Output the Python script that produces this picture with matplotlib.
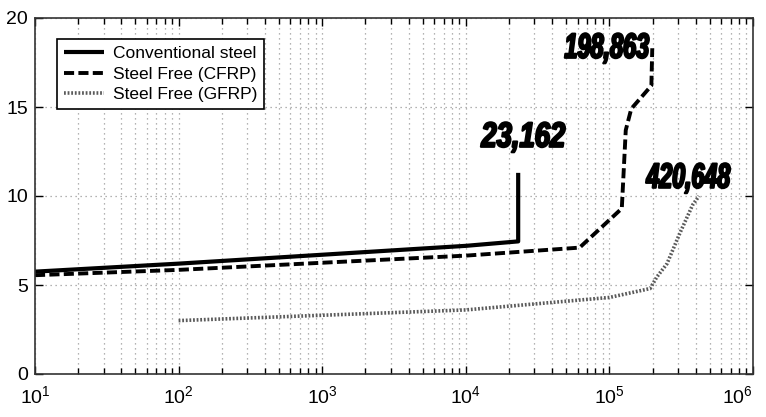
import numpy as np
import matplotlib
matplotlib.use("Agg")
import matplotlib.pyplot as plt
from matplotlib import font_manager
from matplotlib.font_manager import FontProperties
from matplotlib.textpath import TextPath
from matplotlib.patches import PathPatch
from matplotlib.transforms import Affine2D, IdentityTransform
from matplotlib.ticker import LogLocator, FixedLocator, FixedFormatter, NullFormatter

# data
conv_x = [10, 100, 1000, 10000, 23162, 23162]
conv_y = [5.75, 6.2, 6.7, 7.2, 7.45, 11.3]

cfrp_x = [10, 100, 1000, 10000, 62000, 122000, 130000, 142000, 196000, 198863]
cfrp_y = [5.55, 5.85, 6.25, 6.65, 7.1, 9.3, 13.7, 14.9, 16.2, 18.3]

gfrp_x = [100, 1000, 10000, 100000, 192000, 214000, 252000, 309000, 380000, 420648]
gfrp_y = [3.0, 3.3, 3.6, 4.3, 4.8, 5.45, 6.2, 7.9, 9.5, 10.0]

labels = ["Conventional steel", "Steel Free (CFRP)", "Steel Free (GFRP)"]
notes = ["23,162", "198,863", "420,648"]
note_x = [25000, 96000, 353000]
note_y = [13.3, 18.3, 11.0]
x_ticks = [1e1, 1e2, 1e3, 1e4, 1e5, 1e6]
x_tick_labels = ["$10^{1}$", "$10^{2}$", "$10^{3}$", "$10^{4}$", "$10^{5}$", "$10^{6}$"]
y_ticks = [0, 5, 10, 15, 20]

names = {f.name for f in font_manager.fontManager.ttflist}
font = "Liberation Sans Narrow" if "Liberation Sans Narrow" in names else "Liberation Sans"

plt.rcParams["font.family"] = font
plt.rcParams["mathtext.fontset"] = "custom"
plt.rcParams["mathtext.rm"] = font
plt.rcParams["mathtext.it"] = font

fig = plt.figure(figsize=(7.66, 4.17), dpi=100)
ax = fig.add_axes([35 / 766, 1 - 374 / 417, (753 - 35) / 766, (374 - 18) / 417])

ax.plot(conv_x, conv_y, color="black", lw=3, solid_capstyle="butt", label=labels[0])
ax.plot(cfrp_x, cfrp_y, color="black", lw=2.8, linestyle=(0, (2.6, 1.1)), label=labels[1])
ax.plot(gfrp_x, gfrp_y, color="#5a5a5a", lw=2.6, linestyle=(0, (0.5, 0.5)), label=labels[2])

ax.set_xscale("log")
ax.set_xlim(10, 1e6)
ax.set_ylim(0, 20)
ax.xaxis.set_major_locator(FixedLocator(x_ticks))
ax.xaxis.set_major_formatter(FixedFormatter(x_tick_labels))
ax.xaxis.set_minor_locator(LogLocator(base=10, subs=np.arange(2, 10)))
ax.xaxis.set_minor_formatter(NullFormatter())
ax.set_yticks(y_ticks)

ax.tick_params(which="both", direction="in", top=True, right=True, width=1, colors="black")
ax.tick_params(which="major", length=6, labelsize=14, pad=5)
ax.tick_params(which="minor", length=4)
ax.tick_params(axis="x", pad=8)
last = ax.get_xticklabels()[-1]
last.set_horizontalalignment("right")

ax.grid(True, which="major", axis="both", linestyle=(0, (1, 3)), color="#9a9a9a", lw=0.9)
ax.grid(True, which="minor", axis="x", linestyle=(0, (1, 3)), color="#9a9a9a", lw=0.9)
for s in ax.spines.values():
    s.set_linewidth(1.2)
    s.set_color("#333333")

leg = ax.legend(loc="upper left", bbox_to_anchor=(0.031, 0.94), borderaxespad=0, fontsize=12.5,
                frameon=True, fancybox=False, edgecolor="black", framealpha=1,
                handlelength=2.3, handletextpad=0.5, borderpad=0.4, labelspacing=0.3)
leg.get_frame().set_linewidth(1.2)


# tall, condensed bold italic labels, drawn as paths so they can be squeezed
def squeezed_text(s, x, y, em=35, width=84):
    prop = FontProperties(family=font, weight="bold", style="italic")
    tp = TextPath((0, 0), s, size=em, prop=prop)
    bb = tp.get_extents()
    sx = width / bb.width
    px, py = ax.transData.transform((x, y))
    tr = (Affine2D().translate(-(bb.x0 + bb.width / 2), -(bb.y0 + bb.height / 2))
          .scale(sx, 1.0).translate(px, py))
    patch = PathPatch(tr.transform_path(tp), facecolor="black", edgecolor="black",
                      lw=1.6, joinstyle="round", transform=IdentityTransform(), clip_on=False)
    fig.add_artist(patch)


fig.canvas.draw()
for s, x, y in zip(notes, note_x, note_y):
    squeezed_text(s, x, y)

fig.savefig("out.png", dpi=100)
